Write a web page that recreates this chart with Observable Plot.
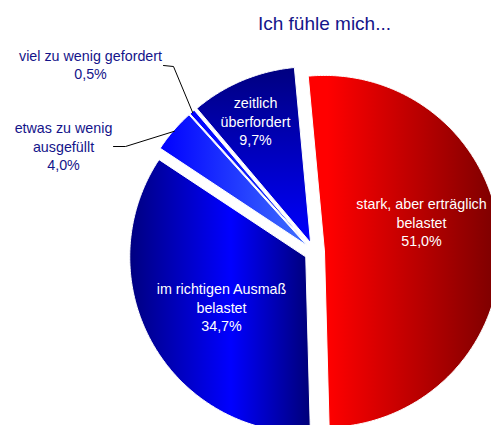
<!DOCTYPE html>
<html><head><meta charset="utf-8">
<script src="https://cdn.jsdelivr.net/npm/d3@7"></script>
<script src="https://cdn.jsdelivr.net/npm/@observablehq/plot@0.6"></script>
<style>html,body{margin:0;padding:0;background:#fff;overflow:hidden}</style>
</head><body><div id="chart"></div>
<script>
// ---- data ----
const title = "Ich fühle mich...";
const categories = ["stark, aber erträglich belastet", "im richtigen Ausmaß belastet", "etwas zu wenig ausgefüllt", "viel zu wenig gefordert", "zeitlich überfordert"];
const labelLines = [["stark, aber erträglich", "belastet"], ["im richtigen Ausmaß", "belastet"], ["etwas zu wenig", "ausgefüllt"], ["viel zu wenig gefordert"], ["zeitlich", "überfordert"]];
const values = [51.0, 34.7, 4.0, 0.5, 9.7];
const valueLabels = ["51,0%", "34,7%", "4,0%", "0,5%", "9,7%"];

// ---- layout / style ----
const W = 491, H = 425, CX = 314, CY = 251.5, R = 176, EXPLODE = 10, START = -5.3;
const fills = ["url(#gRed)", "url(#gRichtig)", "url(#gEtwas)", "url(#gViel)", "url(#gZeit)"];
const inside = [true, true, false, false, true];
const labelPos = [[421, 221], [221, 306], [63, 145], [90, 63.5], [255, 120]];
const leaderElbow = [null, null, [[125, 146], [113, 146]], [[173, 66], [163, 65]], null];
const NAVY = "#14148a";
const FONT = "'Liberation Sans', Arial, sans-serif";

const rad = d => d * Math.PI / 180;
const total = d3.sum(values);
let acc = START;
const slices = values.map((v, i) => {
  const a0 = acc, a1 = acc + v / total * 360; acc = a1;
  const mid = (a0 + a1) / 2;
  const cx = CX + EXPLODE * Math.sin(rad(mid)), cy = CY - EXPLODE * Math.cos(rad(mid));
  const pts = [[cx, cy]];
  const n = Math.max(2, Math.ceil((a1 - a0) / 0.5));
  for (let k = 0; k <= n; k++) {
    const t = rad(a0 + (a1 - a0) * k / n);
    pts.push([cx + R * Math.sin(t), cy - R * Math.cos(t)]);
  }
  pts.push([cx, cy]);
  const edge = [cx + (R - 1) * Math.sin(rad(mid)), cy - (R - 1) * Math.cos(rad(mid))];
  return {i, pts, edge};
});

const sliceMarks = slices.map(s => Plot.line(s.pts, {x: d => d[0], y: d => d[1], fill: fills[s.i], stroke: "white", strokeWidth: 1, curve: "linear"}));
const leaderMarks = slices.filter(s => leaderElbow[s.i]).map(s =>
  Plot.line([s.edge, ...leaderElbow[s.i]], {x: d => d[0], y: d => d[1], stroke: "black", strokeWidth: 1}));
const labels = slices.map(s => ({
  x: labelPos[s.i][0], y: labelPos[s.i][1],
  text: [...labelLines[s.i], valueLabels[s.i]].join("\n"),
  fill: inside[s.i] ? "white" : NAVY
}));

const svg = Plot.plot({
  width: W, height: H, margin: 0,
  x: {domain: [0, W], range: [0, W], axis: null},
  y: {domain: [0, H], range: [0, H], axis: null},
  style: {fontFamily: FONT, background: "white"},
  marks: [
    ...sliceMarks,
    ...leaderMarks,
    Plot.text(labels, {x: "x", y: "y", text: "text", fill: d => d.fill, fontSize: 14.3, lineHeight: 1.31, fontFamily: FONT}),
    Plot.text([title], {x: 324, y: 23, text: d => d, fill: NAVY, fontSize: 19, fontFamily: FONT})
  ]
});
const defs = d3.select(svg).insert("defs", ":first-child");
function grad(id, x2, y2, stops) {
  const g = defs.append("linearGradient").attr("id", id).attr("x1", 0).attr("y1", 0).attr("x2", x2).attr("y2", y2);
  stops.forEach(([o, c]) => g.append("stop").attr("offset", o).attr("stop-color", c));
}
grad("gRed", 1, 0, [[0, "#ff0000"], [0.1, "#ff0000"], [1, "#7a0000"]]);
grad("gRichtig", 1, 0, [[0, "#000080"], [0.56, "#0000ff"], [1, "#000078"]]);
grad("gEtwas", 1, 0, [[0, "#0000ff"], [1, "#4070ff"]]);
grad("gViel", 1, 0, [[0, "#0000ff"], [1, "#2040ff"]]);
grad("gZeit", 0, 1, [[0, "#000080"], [1, "#0000ff"]]);
document.getElementById("chart").appendChild(svg);
</script>
</body></html>
